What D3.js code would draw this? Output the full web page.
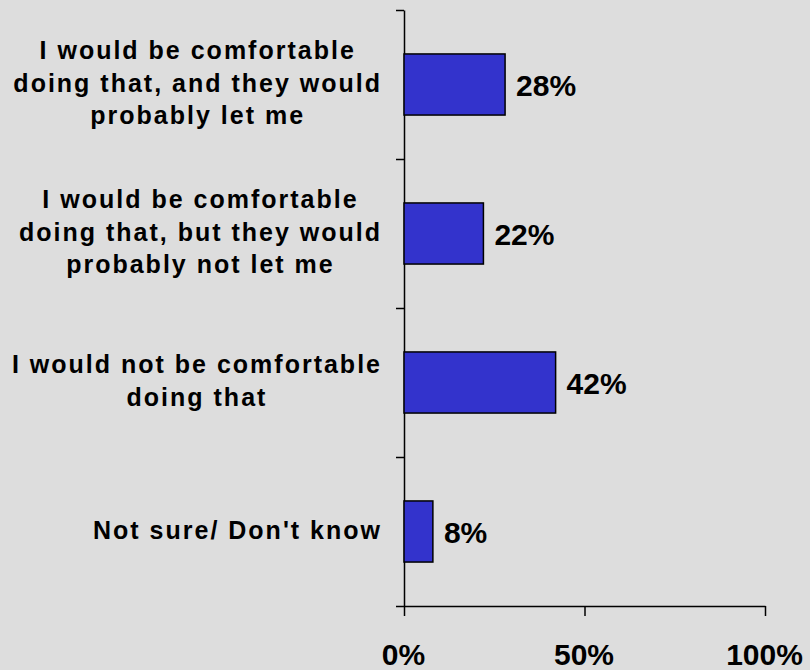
<!DOCTYPE html>
<html>
<head>
<meta charset="utf-8">
<script src="https://cdn.jsdelivr.net/npm/d3@7"></script>
<style>
  html, body { margin: 0; padding: 0; background: #dddddd; }
  svg { display: block; font-family: Arial, "Liberation Sans", sans-serif; font-weight: bold; }
</style>
</head>
<body>
<svg id="canvas" width="810" height="670"></svg>
<script>
// answers, top to bottom (each line of the label is one entry)
let categories = [
    ['I would be comfortable', 'doing that, and they would', 'probably let me'],
    ['I would be comfortable', 'doing that, but they would', 'probably not let me'],
    ['I would not be comfortable', 'doing that'],
    ['Not sure/ Don\'t know']
]
let values = [28, 22, 42, 8]
let xTicks = [0, 50, 100]

let canvas = d3.select('#canvas')

let plotLeft = 404
let plotRight = 765
let plotTop = 10
let plotBottom = 606

let xScale = d3.scaleLinear()
                .domain([0, 100])
                .range([plotLeft, plotRight])

let keys = categories.map((c, i) => i)

let yScale = d3.scaleBand()
                .domain(keys)
                .range([plotTop, plotBottom])
                .paddingInner(0.59)
                .paddingOuter(0.295)

// y axis ticks sit between the bands, not on them
let yEdges = d3.scaleLinear()
                .domain([0, categories.length])
                .range([plotTop, plotBottom])

let yAxis = d3.axisLeft(yEdges)
                .tickValues(d3.range(categories.length + 1))
                .tickFormat('')
                .tickSizeInner(8)
                .tickSizeOuter(0)

let xAxis = d3.axisBottom(xScale)
                .tickValues(xTicks)
                .tickFormat((d) => d + '%')
                .tickSizeInner(10)
                .tickSizeOuter(0)

canvas.append('g')
        .attr('transform', 'translate(0,' + plotBottom + ')')
        .call(xAxis)
        .call((g) => {
            g.select('.domain').attr('stroke', '#000').attr('stroke-width', 1.5)
            g.selectAll('.tick line').attr('stroke', '#000').attr('stroke-width', 1.5)
            g.selectAll('.tick text')
                .attr('fill', '#000')
                .attr('font-size', 30)
                .attr('font-family', 'Arial, "Liberation Sans", sans-serif')
                .attr('font-weight', 'bold')
                .attr('y', 0)
                .attr('dy', 0)
                .attr('transform', 'translate(-1,59)')
        })

canvas.append('g')
        .attr('transform', 'translate(' + plotLeft + ',0)')
        .call(yAxis)
        .call((g) => {
            g.select('.domain').attr('stroke', '#000').attr('stroke-width', 1.5)
            g.selectAll('.tick line').attr('stroke', '#000').attr('stroke-width', 1.5)
        })

canvas.selectAll('rect.bar')
        .data(values)
        .enter()
        .append('rect')
        .attr('class', 'bar')
        .attr('x', xScale(0))
        .attr('y', (d, i) => yScale(i))
        .attr('width', (d) => xScale(d) - xScale(0))
        .attr('height', yScale.bandwidth())
        .attr('fill', '#3333cc')
        .attr('stroke', '#000')
        .attr('stroke-width', 1.5)

canvas.selectAll('text.value')
        .data(values)
        .enter()
        .append('text')
        .attr('class', 'value')
        .attr('x', (d) => xScale(d) + 11)
        .attr('y', (d, i) => yScale(i) + yScale.bandwidth() / 2 + 11)
        .attr('font-size', 30)
        .attr('fill', '#000')
        .text((d) => d + '%')

// category labels: lines centred in a block whose right edge is fixed
let labelRight = 382
let lineGap = 32.5

categories.forEach((lines, i) => {
    let cy = yScale(i) + yScale.bandwidth() / 2
    let g = canvas.append('g')
    let texts = lines.map((line, j) => {
        return g.append('text')
                .attr('font-size', 25)
                .attr('letter-spacing', 2)
                .attr('fill', '#000')
                .attr('text-anchor', 'middle')
                .attr('y', cy + (j - (lines.length - 1) / 2) * lineGap + 7)
                .text(line)
    })
    let maxW = d3.max(texts, (t) => t.node().getComputedTextLength())
    texts.forEach((t) => t.attr('x', labelRight - maxW / 2))
})
</script>
</body>
</html>
